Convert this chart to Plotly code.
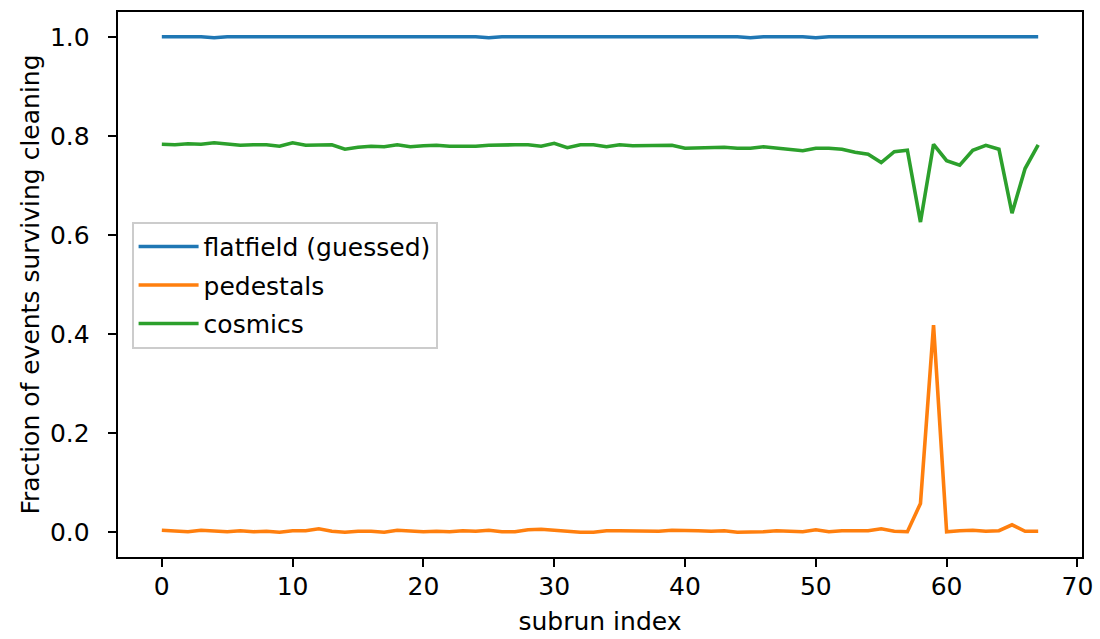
import plotly.graph_objects as go

subrun = list(range(68))

flatfield = [1.0, 1.0, 1.0, 1.0, 0.998, 1.0, 1.0, 1.0, 1.0, 1.0,
             1.0, 1.0, 1.0, 1.0, 1.0, 1.0, 1.0, 1.0, 1.0, 1.0,
             1.0, 1.0, 1.0, 1.0, 1.0, 0.998, 1.0, 1.0, 1.0, 1.0,
             1.0, 1.0, 1.0, 1.0, 1.0, 1.0, 1.0, 1.0, 1.0, 1.0,
             1.0, 1.0, 1.0, 1.0, 1.0, 0.998, 1.0, 1.0, 1.0, 1.0,
             0.998, 1.0, 1.0, 1.0, 1.0, 1.0, 1.0, 1.0, 1.0, 1.0,
             1.0, 1.0, 1.0, 1.0, 1.0, 1.0, 1.0, 1.0]

pedestals = [0.004, 0.003, 0.001, 0.004, 0.003, 0.001, 0.003, 0.001, 0.002, 0.0,
             0.003, 0.003, 0.007, 0.002, 0.0, 0.002, 0.002, 0.0, 0.004, 0.002,
             0.001, 0.002, 0.001, 0.003, 0.002, 0.004, 0.001, 0.001, 0.005, 0.006,
             0.004, 0.003, 0.0, 0.0, 0.003, 0.003, 0.003, 0.003, 0.002, 0.004,
             0.004, 0.003, 0.002, 0.003, 0.0, 0.0, 0.001, 0.003, 0.002, 0.001,
             0.005, 0.001, 0.003, 0.003, 0.003, 0.007, 0.002, 0.001, 0.058, 0.418,
             0.001, 0.003, 0.004, 0.002, 0.003, 0.015, 0.002, 0.002]

cosmics = [0.783, 0.782, 0.784, 0.783, 0.786, 0.783, 0.781, 0.782, 0.782, 0.779,
           0.786, 0.781, 0.781, 0.782, 0.773, 0.777, 0.779, 0.778, 0.782, 0.778,
           0.780, 0.781, 0.779, 0.779, 0.779, 0.781, 0.782, 0.782, 0.782, 0.779,
           0.785, 0.776, 0.782, 0.782, 0.778, 0.782, 0.780, 0.780, 0.781, 0.781,
           0.775, 0.776, 0.776, 0.777, 0.775, 0.775, 0.778, 0.775, 0.773, 0.770,
           0.775, 0.775, 0.773, 0.767, 0.763, 0.746, 0.768, 0.771, 0.626, 0.783,
           0.750, 0.741, 0.771, 0.781, 0.773, 0.644, 0.734, 0.782]

x_ticks = [0, 10, 20, 30, 40, 50, 60, 70]
y_ticks = [0.0, 0.2, 0.4, 0.6, 0.8, 1.0]
y_ticklabels = ["0.0", "0.2", "0.4", "0.6", "0.8", "1.0"]

FONT = "DejaVu Sans"
FS = 25

fig = go.Figure()
series = [("flatfield (guessed)", flatfield, "#1f77b4"),
          ("pedestals", pedestals, "#ff7f0e"),
          ("cosmics", cosmics, "#2ca02c")]
for i, (name, vals, col) in enumerate(series):
    fig.add_trace(go.Scatter(x=subrun, y=vals, mode="lines", name=name,
                             legendgroup=f"g{i}",
                             line=dict(color=col, width=3.6)))

axis_common = dict(showgrid=False, zeroline=False, showline=True, linecolor="black",
                   linewidth=1.9, mirror=True, ticks="outside", ticklen=8.4,
                   tickwidth=1.9, tickcolor="black",
                   tickfont=dict(family=FONT, size=FS, color="black"))

fig.update_layout(
    width=1100, height=639,
    margin=dict(l=118, r=18, t=12, b=82, autoexpand=False),
    paper_bgcolor="white", plot_bgcolor="white",
    font=dict(family=FONT, size=FS, color="black"),
    xaxis=dict(range=[-3.35, 70.35], tickvals=x_ticks, ticklabelstandoff=-2,
               title=dict(text="subrun index", standoff=12,
                          font=dict(family=FONT, size=FS)),
               **axis_common),
    yaxis=dict(range=[-0.05, 1.05], tickvals=y_ticks, ticktext=y_ticklabels,
               ticklabelstandoff=13,
               title=dict(text="Fraction of events surviving cleaning", standoff=3,
                          font=dict(family=FONT, size=FS)),
               **axis_common),
    legend=dict(x=0.0142, y=0.615, xanchor="left", yanchor="top",
                bgcolor="rgba(255,255,255,0.8)", bordercolor="#cccccc", borderwidth=1.9,
                font=dict(family=FONT, size=FS, color="black"),
                traceorder="grouped", tracegroupgap=3, itemwidth=60),
    showlegend=True,
)

fig.write_html("out.html", config={"displayModeBar": False},
               post_script="document.body.style.margin='0';document.body.style.overflow='hidden';")
